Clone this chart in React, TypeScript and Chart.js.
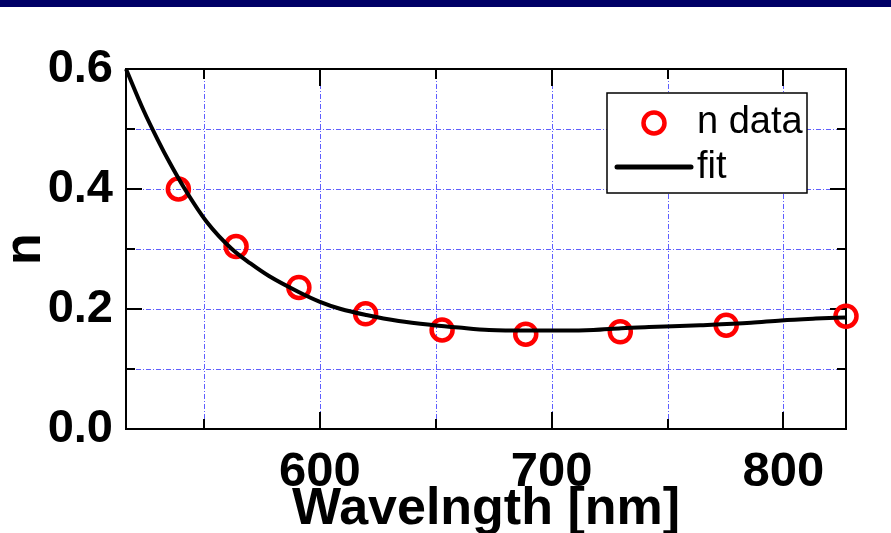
import { useEffect, useRef } from 'react';
import { Chart, registerables } from 'chart.js';

Chart.register(...registerables);

// Measured refractive index n versus wavelength (nm)
const wavelength = [538.9, 563.8, 590.9, 619.7, 652.7, 688.8, 729.6, 775.3, 827.0];
const nData = [0.4, 0.304, 0.236, 0.192, 0.165, 0.158, 0.162, 0.173, 0.188];

// Fitted dispersion curve
const fitWavelength = [
  516.3, 524, 530, 535, 542, 551, 562, 570, 578, 591, 600, 609, 620, 634, 649,
  660, 673, 690, 705, 718, 730, 742, 764, 786, 799, 814, 827,
];
const fitN = [
  0.6, 0.53, 0.482, 0.445, 0.398, 0.346, 0.3, 0.276, 0.255, 0.228, 0.212,
  0.2, 0.19, 0.18, 0.173, 0.169, 0.165, 0.164, 0.164, 0.165, 0.168, 0.17,
  0.173, 0.177, 0.181, 0.184, 0.186,
];

// Labelled (major) ticks; the rest of the grid steps are minor
const xTickLabels = [600, 700, 800];
const yTickLabels = [0, 0.2, 0.4, 0.6];

const FONT = '"Liberation Sans", Arial, sans-serif';
const GRID_COLOR = 'rgb(95, 95, 255)';
const GRID_DASH = [5, 2, 1, 2];

const isMajorY = (v: number) => yTickLabels.some((t) => Math.abs(t - v) < 1e-6);
const isMajorX = (v: number) => xTickLabels.some((t) => Math.abs(t - v) < 1e-6);

// Page background, header strip, dotted grid, plot frame and inward tick marks
const framePlugin = {
  id: 'frame',
  beforeDraw(chart: any) {
    const { ctx, width, height } = chart;
    ctx.save();
    ctx.fillStyle = '#ffffff';
    ctx.fillRect(0, 0, width, height);
    ctx.fillStyle = '#000066';
    ctx.fillRect(0, 0, width, 7);
    ctx.restore();
  },
  beforeDatasetsDraw(chart: any) {
    const { ctx, chartArea: a, scales } = chart;
    const x = scales.x;
    const y = scales.y;
    ctx.save();

    // grid
    ctx.strokeStyle = GRID_COLOR;
    ctx.lineWidth = 1;
    ctx.setLineDash(GRID_DASH);
    ctx.beginPath();
    y.ticks.forEach((t: any) => {
      const p = Math.round(y.getPixelForValue(t.value)) + 0.5;
      if (p <= a.top + 2 || p >= a.bottom - 2) return;
      ctx.moveTo(a.left, p);
      ctx.lineTo(a.right, p);
    });
    x.ticks.forEach((t: any) => {
      const p = Math.round(x.getPixelForValue(t.value)) + 0.5;
      if (p <= a.left + 2 || p >= a.right - 2) return;
      ctx.moveTo(p, a.bottom);
      ctx.lineTo(p, a.top);
    });
    ctx.stroke();
    ctx.setLineDash([]);

    // ticks and frame
    ctx.strokeStyle = '#000';
    ctx.lineWidth = 2;
    ctx.beginPath();
    y.ticks.forEach((t: any) => {
      const p = Math.round(y.getPixelForValue(t.value));
      const len = isMajorY(t.value) ? 16 : 9;
      ctx.moveTo(a.left, p);
      ctx.lineTo(a.left + len, p);
      ctx.moveTo(a.right, p);
      ctx.lineTo(a.right - len, p);
    });
    x.ticks.forEach((t: any) => {
      const p = Math.round(x.getPixelForValue(t.value));
      const len = isMajorX(t.value) ? 17 : 10;
      ctx.moveTo(p, a.bottom);
      ctx.lineTo(p, a.bottom - len);
      ctx.moveTo(p, a.top);
      ctx.lineTo(p, a.top + len);
    });
    ctx.stroke();
    ctx.strokeRect(a.left, a.top, a.right - a.left, a.bottom - a.top);
    ctx.restore();
  },
};

// Boxed legend inside the upper-right corner of the plot
const legendPlugin = {
  id: 'boxLegend',
  afterDraw(chart: any) {
    const { ctx, chartArea: a } = chart;
    const boxW = 200;
    const boxH = 100;
    const bx = a.right - 39 - boxW;
    const by = a.top + 24;
    ctx.save();
    ctx.fillStyle = '#fff';
    ctx.fillRect(bx, by, boxW, boxH);
    ctx.strokeStyle = '#000';
    ctx.lineWidth = 1.5;
    ctx.strokeRect(bx, by, boxW, boxH);

    const textX = bx + 90;
    ctx.font = `38px ${FONT}`;
    ctx.fillStyle = '#000';
    ctx.textAlign = 'left';
    ctx.textBaseline = 'alphabetic';

    const [points, fit] = chart.data.datasets;
    // points entry
    const r1 = by + 30;
    ctx.beginPath();
    ctx.arc(bx + 47, r1, points.pointRadius, 0, Math.PI * 2);
    ctx.strokeStyle = points.pointBorderColor;
    ctx.lineWidth = points.pointBorderWidth;
    ctx.stroke();
    ctx.fillText(points.label, textX, r1 + 10);

    // fit entry
    const r2 = by + 74;
    ctx.beginPath();
    ctx.moveTo(bx + 10, r2);
    ctx.lineTo(bx + 84, r2);
    ctx.strokeStyle = fit.borderColor;
    ctx.lineWidth = 5;
    ctx.lineCap = 'round';
    ctx.stroke();
    ctx.fillText(fit.label, textX, r2 + 11);
    ctx.restore();
  },
};

export default function App() {
  const canvasRef = useRef<HTMLCanvasElement | null>(null);

  useEffect(() => {
    const canvas = canvasRef.current;
    if (!canvas) return;
    const chart = new Chart(canvas, {
      type: 'scatter',
      data: {
        datasets: [
          {
            label: 'n data',
            data: wavelength.map((w, i) => ({ x: w, y: nData[i] })),
            showLine: false,
            pointStyle: 'circle',
            pointRadius: 10.5,
            pointBorderWidth: 4.5,
            pointBorderColor: '#ff0000',
            pointBackgroundColor: 'rgba(0,0,0,0)',
            borderColor: '#ff0000',
            backgroundColor: 'rgba(0,0,0,0)',
            order: 1,
            clip: false,
          } as any,
          {
            label: 'fit',
            data: fitWavelength.map((w, i) => ({ x: w, y: fitN[i] })),
            showLine: true,
            borderColor: '#000000',
            borderWidth: 4,
            pointRadius: 0,
            cubicInterpolationMode: 'monotone',
            borderJoinStyle: 'round',
            borderCapStyle: 'butt',
            order: 0,
            clip: false,
          } as any,
        ],
      },
      options: {
        responsive: false,
        animation: false,
        events: [],
        layout: { padding: { top: 69, right: 45, left: 0, bottom: 0 } },
        plugins: {
          legend: { display: false },
          tooltip: { enabled: false },
        },
        scales: {
          x: {
            type: 'linear',
            min: fitWavelength[0],
            max: wavelength[wavelength.length - 1],
            afterFit: (s: any) => {
              s.height = 533 - 429;
            },
            ticks: {
              stepSize: 50,
              includeBounds: false,
              autoSkip: false,
              maxRotation: 0,
              minRotation: 0,
              padding: 14,
              color: '#000',
              font: { family: FONT, size: 49, weight: 'bold' },
              callback: (v: any) => (isMajorX(Number(v)) ? String(Math.round(Number(v))) : ''),
            },
            grid: { display: false, drawTicks: false },
            border: { display: false },
            title: {
              display: true,
              text: 'Wavelngth [nm]',
              color: '#000',
              font: { family: FONT, size: 52, weight: 'bold', lineHeight: 1 },
              padding: { top: 0, bottom: -3 },
            },
          },
          y: {
            type: 'linear',
            min: 0,
            max: 0.6,
            afterFit: (s: any) => {
              s.width = 126;
            },
            ticks: {
              stepSize: 0.1,
              autoSkip: false,
              padding: 13,
              color: '#000',
              font: { family: FONT, size: 47, weight: 'bold' },
              callback: (v: any) => (isMajorY(Number(v)) ? Number(v).toFixed(1) : ''),
            },
            grid: { display: false, drawTicks: false },
            border: { display: false },
            title: {
              display: true,
              text: 'n',
              color: '#000',
              font: { family: FONT, size: 52, weight: 'bold', lineHeight: 1 },
              padding: { top: 0, bottom: 0 },
            },
          },
        },
      } as any,
      plugins: [framePlugin, legendPlugin],
    });
    return () => chart.destroy();
  }, []);

  return (
    <div style={{ position: 'fixed', left: 0, top: 0, width: 891, height: 533, background: '#fff' }}>
      <canvas ref={canvasRef} width={891} height={533} style={{ display: 'block' }} />
    </div>
  );
}
